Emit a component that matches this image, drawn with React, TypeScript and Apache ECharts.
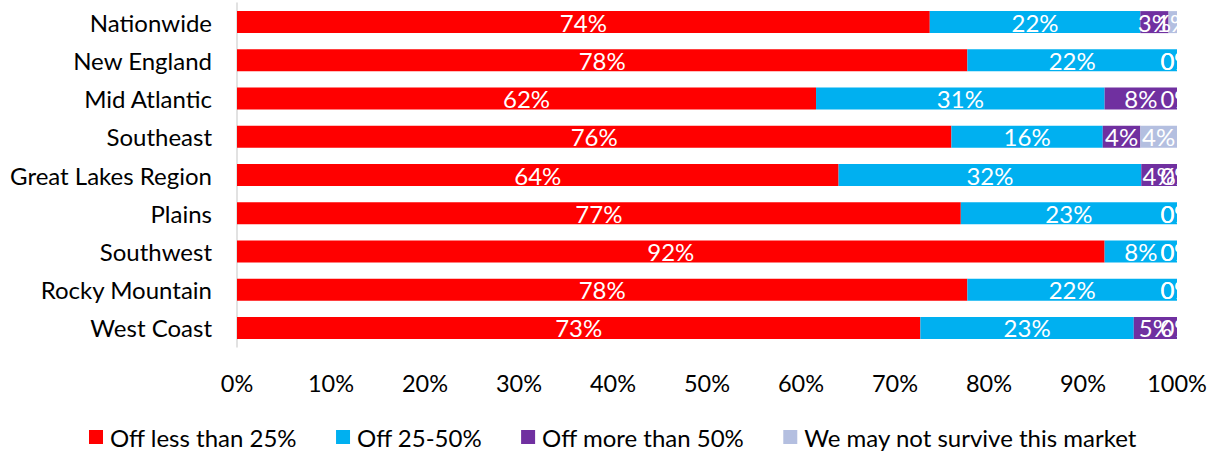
import React, { useEffect, useRef } from "react";
import * as echarts from "echarts";

const categories = [
  "Nationwide",
  "New England",
  "Mid Atlantic",
  "Southeast",
  "Great Lakes Region",
  "Plains",
  "Southwest",
  "Rocky Mountain",
  "West Coast",
];
const offLess25 = [73.7, 77.7, 61.6, 76.0, 64.0, 77.0, 92.3, 77.7, 72.7];
const off25to50 = [22.4, 22.3, 30.7, 16.1, 32.2, 23.0, 7.7, 22.3, 22.7];
const offMore50 = [3.0, 0, 7.7, 4.0, 3.8, 0, 0, 0, 4.6];
const mayNotSurvive = [0.9, 0, 0, 3.9, 0, 0, 0, 0, 0];
const xTicks = [0, 10, 20, 30, 40, 50, 60, 70, 80, 90, 100];

const seriesNames = [
  "Off less than 25%",
  "Off 25-50%",
  "Off more than 50%",
  "We may not survive this market",
];
const seriesColors = ["#FF0000", "#00B0F0", "#7030A0", "#B4BFE0"];
const seriesData = [offLess25, off25to50, offMore50, mayNotSurvive];

const FONT = "Lato, 'Open Sans', sans-serif";

export default function App() {
  const ref = useRef<HTMLDivElement>(null);
  useEffect(() => {
    if (!ref.current) return;
    const chart = echarts.init(ref.current, undefined, { renderer: "svg" });
    chart.setOption({
      animation: false,
      textStyle: { fontFamily: FONT },
      grid: { left: 237, right: 38, top: 3, bottom: 108 },
      legend: {
        top: 420,
        left: 84,
        itemWidth: 14,
        itemHeight: 14,
        itemGap: 39,
        icon: "rect",
        textStyle: {
          fontSize: 24,
          color: "#000",
          fontFamily: FONT,
          padding: [0, 0, 0, 2],
        },
        data: seriesNames,
      },
      xAxis: {
        type: "value",
        min: xTicks[0],
        max: xTicks[xTicks.length - 1],
        interval: 10,
        axisLine: { show: false },
        axisTick: { show: false },
        splitLine: { show: false },
        axisLabel: {
          formatter: "{value}%",
          fontSize: 23.5,
          color: "#000",
          margin: 24,
          fontFamily: FONT,
        },
      },
      yAxis: {
        type: "category",
        data: categories,
        inverse: true,
        axisLine: { show: true, lineStyle: { color: "#D9D9D9", width: 1.5 } },
        axisTick: { show: false },
        axisLabel: { fontSize: 24, color: "#000", margin: 25, fontFamily: FONT },
      },
      series: seriesNames.map((name, i) => ({
        name,
        type: "bar",
        stack: "total",
        barWidth: 22,
        data: seriesData[i],
        itemStyle: { color: seriesColors[i] },
        label: {
          show: true,
          position: "inside",
          color: "#fff",
          fontSize: 24,
          fontFamily: FONT,
          formatter: (p: any) => Math.round(p.value) + "%",
        },
      })),
      graphic: [
        {
          type: "rect",
          z: 100,
          shape: { x: 1177, y: 0, width: 40, height: 350 },
          style: { fill: "#fff" },
        },
      ],
    });
    return () => chart.dispose();
  }, []);
  return (
    <div
      ref={ref}
      style={{ position: "absolute", left: 0, top: 0, width: 1215, height: 455 }}
    />
  );
}
